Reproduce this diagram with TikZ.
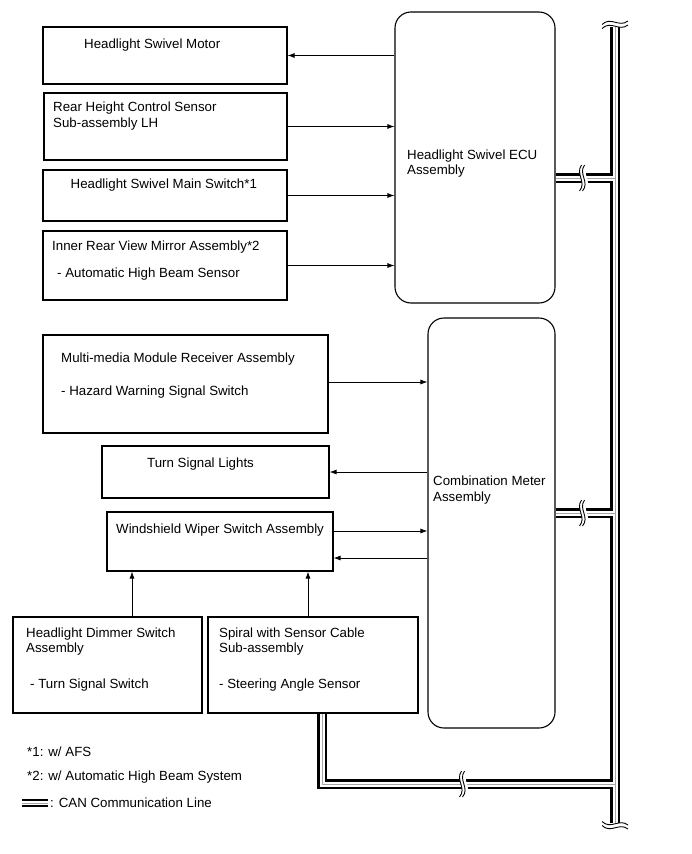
\documentclass[tikz,border=0pt]{standalone}
\usepackage{fontspec}
\setmainfont{Liberation Sans}
\usetikzlibrary{arrows.meta}
\tikzset{
  box/.style={draw=black, line width=1.1pt, rectangle, inner sep=0pt, fill=none},
  rbox/.style={box, rounded corners=16pt},
  lbl/.style={anchor=base west, inner sep=0pt, font=\fontsize{13.3}{15}\selectfont},
  arr/.style={draw=black, line width=0.8pt, -{Latex[length=7pt,width=5pt]}},
  canblack/.style={draw=black, line width=10.5pt, line join=miter},
  canwhite/.style={draw=white, line width=5pt, line join=miter},
  cangray/.style={draw=gray!70, line width=1pt, line join=miter},
  pics/hbreak/.style={code={
    \fill[white] (-1.5,-13) .. controls (-8,-4) and (4,4) .. (-3.5,13) -- (2.5,13) .. controls (10,4) and (-2,-4) .. (4.5,-13) -- cycle;
    \draw[line width=0.9pt] (-1.5,-13) .. controls (-8,-4) and (4,4) .. (-3.5,13);
    \draw[line width=0.9pt] (1.5,-13) .. controls (-5,-4) and (7,4) .. (-0.5,13);
  }},
  pics/vbreak/.style={code={
    \fill[white] (-13,1.5) .. controls (-4,-7) and (4,5) .. (13,-2) -- (13,-6) .. controls (4,1) and (-4,-11) .. (-13,-2.5) -- cycle;
    \draw[line width=0.9pt] (-13,1.5) .. controls (-4,-7) and (4,5) .. (13,-2);
    \draw[line width=0.9pt] (-13,-2.5) .. controls (-4,-11) and (4,1) .. (13,-6);
  }},
  pics/vbreakb/.style={code={
    \fill[white] (-13,-1.5) .. controls (-4,7) and (4,-5) .. (13,2) -- (13,6) .. controls (4,-1) and (-4,11) .. (-13,2.5) -- cycle;
    \draw[line width=0.9pt] (-13,-1.5) .. controls (-4,7) and (4,-5) .. (13,2);
    \draw[line width=0.9pt] (-13,2.5) .. controls (-4,11) and (4,-1) .. (13,6);
  }}
}
\newcommand\canroutes[1]{%
  \draw[#1] (cantop) -- (canbot);
  \draw[#1] (ecu.east |- canj1) -- (canj1);
  \draw[#1] (cm.east |- canj2) -- (canj2);
  \draw[#1] (spcan) -- (spcan |- canj3) -- (canj3);
}
\begin{document}
\begin{tikzpicture}[x=1pt,y=-1pt]
\useasboundingbox (0,0) rectangle (691,854);

% boxes
\node[box, minimum width=244pt, minimum height=57pt] (motor) at (165,55.5) {};
\node[box, minimum width=243pt, minimum height=67pt] (rhcs) at (165.5,126.5) {};
\node[box, minimum width=244pt, minimum height=51pt] (mainsw) at (165,195.5) {};
\node[box, minimum width=244pt, minimum height=69pt] (mirror) at (165,265.5) {};
\node[rbox, minimum width=160pt, minimum height=291pt] (ecu) at (475,157.5) {};
\node[box, minimum width=285pt, minimum height=98pt] (mm) at (185.5,384) {};
\node[rbox, minimum width=127pt, minimum height=410pt] (cm) at (491.5,523) {};
\node[box, minimum width=227pt, minimum height=52pt] (tsl) at (215.5,472) {};
\node[box, minimum width=226pt, minimum height=59pt] (wiper) at (220,541.5) {};
\node[box, minimum width=189pt, minimum height=96pt] (dimmer) at (107.5,665) {};
\node[box, minimum width=210pt, minimum height=96pt] (spiral) at (313,665) {};

% texts
\node[lbl] (tmotor) at (84,48) {Headlight Swivel Motor};
\node[lbl] (trhcs1) at (53,111) {Rear Height Control Sensor};
\node[lbl] (trhcs2) at (53,127) {Sub-assembly LH};
\node[lbl] (tmainsw) at (70.5,188.5) {Headlight Swivel Main Switch*1};
\node[lbl] (tmirror1) at (52,250) {Inner Rear View Mirror Assembly*2};
\node[lbl] (tmirror2) at (57,277) {- Automatic High Beam Sensor};
\node[lbl] (tecu1) at (407,159) {Headlight Swivel ECU};
\node[lbl] (tecu2) at (407,174) {Assembly};
\node[lbl] (tmm1) at (61,362.5) {Multi-media Module Receiver Assembly};
\node[lbl] (tmm2) at (61,395) {- Hazard Warning Signal Switch};
\node[lbl] (tcm1) at (433,485) {Combination Meter};
\node[lbl] (tcm2) at (433,501) {Assembly};
\node[lbl] (ttsl) at (147,467) {Turn Signal Lights};
\node[lbl] (twiper) at (116,533) {Windshield Wiper Switch Assembly};
\node[lbl] (tdim1) at (26,637) {Headlight Dimmer Switch};
\node[lbl] (tdim2) at (26,652) {Assembly};
\node[lbl] (tdim3) at (30,688) {- Turn Signal Switch};
\node[lbl] (tsp1) at (219,637) {Spiral with Sensor Cable};
\node[lbl] (tsp2) at (219,652) {Sub-assembly};
\node[lbl] (tsp3) at (219,688) {- Steering Angle Sensor};

% legend
\node[lbl] (n1) at (27,756) {*1: w/ AFS};
\node[lbl] (n2) at (27,780) {*2: w/ Automatic High Beam System};
\node[lbl] (n3) at (50,807) {: CAN Communication Line};
\coordinate (lga) at (22,803);
\coordinate (lgb) at (48,803);
\draw[draw=black, line width=7.5pt] (lga) -- (lgb);
\draw[draw=white, line width=3.4pt] (lga) -- (lgb);
\draw[draw=gray!70, line width=0.9pt] (lga) -- (lgb);

% helper coordinates
\coordinate (mmo) at ([yshift=2pt]mm.east);
\coordinate (whi) at ([yshift=10.5pt]wiper.east);
\coordinate (wlo) at ([yshift=-16.5pt]wiper.east);
\coordinate (dimo) at ([xshift=24.5pt]dimmer.north);
\coordinate (spo) at ([xshift=-5pt]spiral.north);
\coordinate (spcan) at ([xshift=9pt]spiral.south);

% arrows
\draw[arr] (ecu.west |- motor.east) -- (motor.east);
\draw[arr] (rhcs.east) -- (rhcs.east -| ecu.west);
\draw[arr] (mainsw.east) -- (mainsw.east -| ecu.west);
\draw[arr] (mirror.east) -- (mirror.east -| ecu.west);
\draw[arr] (mmo) -- (mmo -| cm.west);
\draw[arr] (cm.west |- tsl.east) -- (tsl.east);
\draw[arr] (whi) -- (whi -| cm.west);
\draw[arr] (cm.west |- wlo) -- (wlo);
\draw[arr] (dimo) -- (dimo |- wiper.south);
\draw[arr] (spo) -- (spo |- wiper.south);

% CAN line
\coordinate (cantop) at (615,27);
\coordinate (canbot) at (615,823);
\coordinate (canj1) at (615,178);
\coordinate (canj2) at (615,513);
\coordinate (canj3) at (615,784);
\canroutes{canblack}
\canroutes{canwhite}
\canroutes{cangray}
\pic at (583,178) {hbreak};
\pic at (583,513) {hbreak};
\pic at (463,784) {hbreak};
\pic at (615,27) {vbreak};
\pic at (615,823) {vbreakb};
\end{tikzpicture}
\end{document}
